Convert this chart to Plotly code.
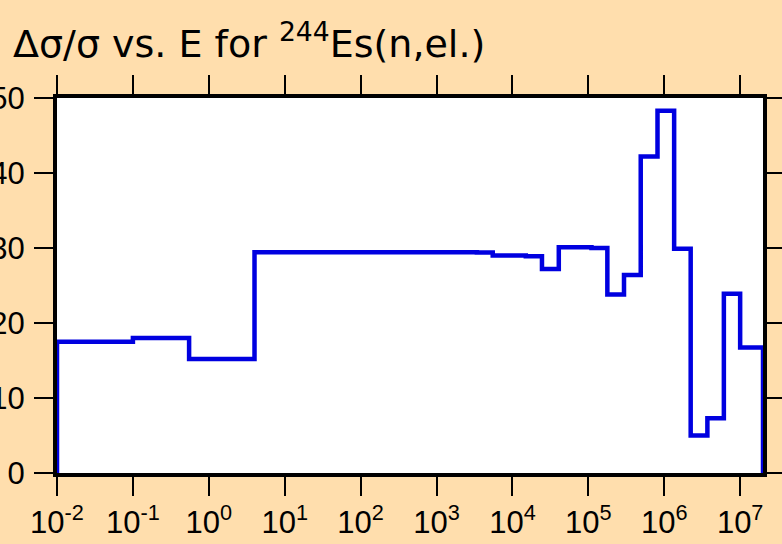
import plotly.graph_objects as go

# Energy group boundaries (eV) and relative uncertainty (%) in each group
edges = [0.01, 0.1, 0.55, 4.0, 2000, 3400, 5500, 8500, 15000, 24500, 40800,
         66000, 110000, 178000, 295000, 490000, 815000, 1.35e6, 2.23e6,
         3.7e6, 6.1e6, 1.0e7, 2.0e7]
values = [17.5, 18.0, 15.2, 29.45, 29.45, 29.4, 29.0, 29.0, 28.9, 27.2, 30.1,
          30.1, 30.0, 23.8, 26.4, 42.2, 48.3, 29.9, 5.0, 7.3, 23.9, 16.75]

x_tickvals = [1e-2, 1e-1, 1e0, 1e1, 1e2, 1e3, 1e4, 1e5, 1e6, 1e7]
x_ticktext = ["10<sup>-2</sup>", "10<sup>-1</sup>", "10<sup>0</sup>",
              "10<sup>1</sup>", "10<sup>2</sup>", "10<sup>3</sup>",
              "10<sup>4</sup>", "10<sup>5</sup>", "10<sup>6</sup>",
              "10<sup>7</sup>"]
y_tickvals = [0, 10, 20, 30, 40, 50]

# Histogram outline: rise from zero at the first edge, fall to zero at the last
xs = [edges[0]] + edges
ys = [0] + values + [0]

fig = go.Figure(go.Scatter(
    x=xs, y=ys, mode="lines", line_shape="hv",
    line=dict(color="#0000E0", width=4.5),
    hoverinfo="skip",
))

font = "Liberation Sans, Arial, sans-serif"
axis_common = dict(
    showline=True, linecolor="black", linewidth=4, mirror="ticks",
    ticks="outside", ticklen=19, tickwidth=2, tickcolor="black",
    showgrid=False, zeroline=False, automargin=False,
    tickfont=dict(family=font, size=31, color="black"),
)

fig.update_xaxes(type="log", range=[-2, 7.301], tickvals=x_tickvals,
                 ticktext=x_ticktext, **axis_common)
fig.update_yaxes(range=[0, 50], tickvals=y_tickvals, ticklabelstandoff=3,
                 **axis_common)

fig.update_layout(
    width=782, height=544,
    margin=dict(l=57, r=19, t=98, b=71),
    paper_bgcolor="#FFDEAD", plot_bgcolor="white",
    showlegend=False,
    title=dict(text="\u0394\u03c3/\u03c3 vs. E for <sup>244</sup>Es(n,el.)",
               font=dict(family="DejaVu Sans, sans-serif", size=38,
                         color="black"),
               x=13 / 782, xref="container", xanchor="left",
               y=1 - 44 / 544, yref="container", yanchor="middle"),
)

fig.write_html("out.html")
